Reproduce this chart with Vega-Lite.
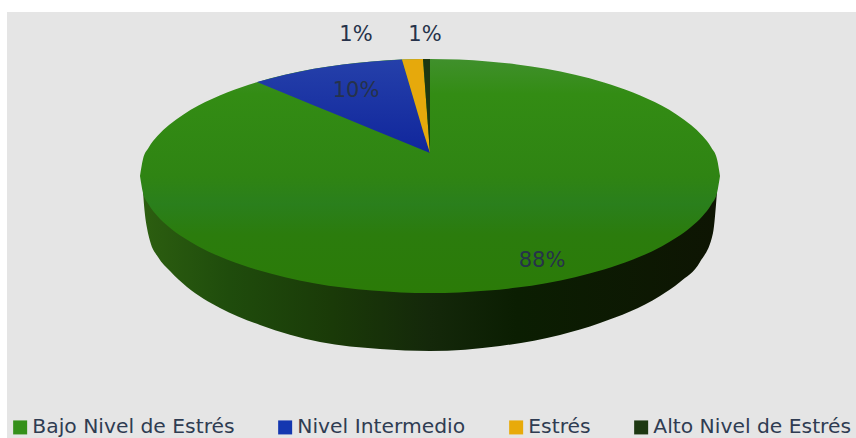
{
"$schema":"https://vega.github.io/schema/vega-lite/v6.json",
"width":849,"height":426,"autosize":"none",
"padding":{"left":7,"top":12,"right":0,"bottom":0},
"background":"#ffffff",
"view":{"fill":"#e5e5e5","stroke":null},
"datasets":{
"shares":[
{"slice":"Bajo Nivel de Estrés","label":"88%","lx":542,"ly":261},
{"slice":"Nivel Intermedio","label":"10%","lx":356,"ly":91},
{"slice":"Estrés","label":"1%","lx":356,"ly":35},
{"slice":"Alto Nivel de Estrés","label":"1%","lx":425,"ly":35}
],
"wall":[
{"x":143,"y":176,"y2":192},{"x":145,"y":176,"y2":215},{"x":147,"y":176,"y2":228},{"x":150,"y":176,"y2":241},{"x":158,"y":176,"y2":257},{"x":170,"y":176,"y2":271},{"x":187,"y":176,"y2":287},{"x":220,"y":176,"y2":308},{"x":260,"y":176,"y2":325},{"x":320,"y":176,"y2":342},{"x":380,"y":176,"y2":349},{"x":430,"y":176,"y2":351},{"x":500,"y":176,"y2":346},{"x":560,"y":176,"y2":335},{"x":600,"y":176,"y2":323},{"x":660,"y":176,"y2":296},{"x":680,"y":176,"y2":282},{"x":700,"y":176,"y2":262},{"x":713,"y":176,"y2":233},{"x":717,"y":176,"y2":192}
],
"top":[
{"x":140,"y":176,"y2":176},{"x":142.9,"y":159.5,"y2":192.5},{"x":148.7,"y":147.6,"y2":204.4},{"x":157.4,"y":136.1,"y2":215.9},{"x":169,"y":125,"y2":227},{"x":183.5,"y":114.4,"y2":237.6},{"x":198,"y":105.8,"y2":246.2},{"x":227,"y":92.4,"y2":259.6},{"x":256,"y":82.4,"y2":269.6},{"x":285,"y":74.7,"y2":277.3},{"x":314,"y":68.8,"y2":283.2},{"x":343,"y":64.4,"y2":287.6},{"x":372,"y":61.4,"y2":290.6},{"x":401,"y":59.6,"y2":292.4},{"x":430,"y":59,"y2":293},{"x":459,"y":59.6,"y2":292.4},{"x":488,"y":61.4,"y2":290.6},{"x":517,"y":64.4,"y2":287.6},{"x":546,"y":68.8,"y2":283.2},{"x":575,"y":74.7,"y2":277.3},{"x":604,"y":82.4,"y2":269.6},{"x":633,"y":92.4,"y2":259.6},{"x":662,"y":105.8,"y2":246.2},{"x":676.5,"y":114.4,"y2":237.6},{"x":691,"y":125,"y2":227},{"x":702.6,"y":136.1,"y2":215.9},{"x":711.3,"y":147.6,"y2":204.4},{"x":717.1,"y":159.5,"y2":192.5},{"x":720,"y":176,"y2":176}
],
"blue":[
{"x":257,"y":82,"y2":82},{"x":285,"y":74.7,"y2":93.5},{"x":314,"y":68.8,"y2":105.4},{"x":343,"y":64.4,"y2":117.3},{"x":372,"y":61.4,"y2":129.2},{"x":402,"y":59.5,"y2":141.5},{"x":430,"y":153,"y2":153}
],
"yellow":[
{"x":402,"y":59.5,"y2":59.5},{"x":423,"y":59,"y2":131},{"x":430,"y":153,"y2":153}
],
"dark":[
{"x":423,"y":59,"y2":59},{"x":430,"y":59,"y2":153}
],
"leader":[
{"x":377,"y":41},{"x":390,"y":41},{"x":412,"y":59}
]
},
"encoding":{
"x":{"field":"x","type":"quantitative","axis":null,"scale":{"domain":[7,856],"nice":false,"zero":false}},
"y":{"field":"y","type":"quantitative","axis":null,"scale":{"domain":[438,12],"nice":false,"zero":false}},
"y2":{"field":"y2"}
},
"layer":[
{"data":{"name":"wall"},"mark":{"type":"area","interpolate":"monotone","color":{"gradient":"linear","x1":0,"y1":0,"x2":1,"y2":0,"stops":[{"offset":0,"color":"#2c5e10"},{"offset":0.15,"color":"#1f4c0c"},{"offset":0.33,"color":"#1a3a08"},{"offset":0.5,"color":"#14280a"},{"offset":0.65,"color":"#0b1e02"},{"offset":1,"color":"#0e1503"}]}}},
{"data":{"name":"top"},"mark":{"type":"area","interpolate":"monotone","color":{"gradient":"linear","x1":0,"y1":0,"x2":0,"y2":1,"stops":[{"offset":0,"color":"#40902c"},{"offset":0.15,"color":"#338c14"},{"offset":0.5,"color":"#2f8413"},{"offset":0.62,"color":"#2a7f1c"},{"offset":0.75,"color":"#2b7c0d"},{"offset":1,"color":"#2b7b08"}]}}},
{"data":{"name":"blue"},"mark":{"type":"area","color":{"gradient":"linear","x1":0,"y1":0,"x2":0,"y2":1,"stops":[{"offset":0,"color":"#2540aa"},{"offset":1,"color":"#10269c"}]}}},
{"data":{"name":"yellow"},"mark":{"type":"area","color":"#e6a90c"}},
{"data":{"name":"dark"},"mark":{"type":"area","color":"#1d3812"}},
{"data":{"name":"leader"},"mark":{"type":"line","color":"#a9b6c6","strokeWidth":1.5},"encoding":{"y2":{"value":null}}},
{"data":{"name":"shares"},"mark":{"type":"text","font":"DejaVu Sans","fontSize":21,"color":"#26324a"},
"encoding":{"x":{"field":"lx","type":"quantitative"},"y":{"field":"ly","type":"quantitative"},"y2":{"value":null},"text":{"field":"label"}}},
{"data":{"name":"shares"},"mark":{"type":"square","opacity":0},
"encoding":{"x":{"value":0},"y":{"value":0},"y2":{"value":null},
"color":{"field":"slice","type":"nominal",
"scale":{"domain":["Bajo Nivel de Estrés","Nivel Intermedio","Estrés","Alto Nivel de Estrés"],"range":["#35901a","#1437b0","#e8aa0a","#1d3812"]},
"legend":{"title":null,"orient":"none","legendX":3,"legendY":405,"direction":"horizontal","columns":4,"columnPadding":40,"gridAlign":"each","symbolType":"square","symbolSize":196,"symbolOpacity":1,"symbolStrokeWidth":0,"labelFont":"DejaVu Sans","labelFontSize":20.3,"labelLimit":400,"labelColor":"#2f3c52","labelOffset":2,"padding":0}}}}
]
}
